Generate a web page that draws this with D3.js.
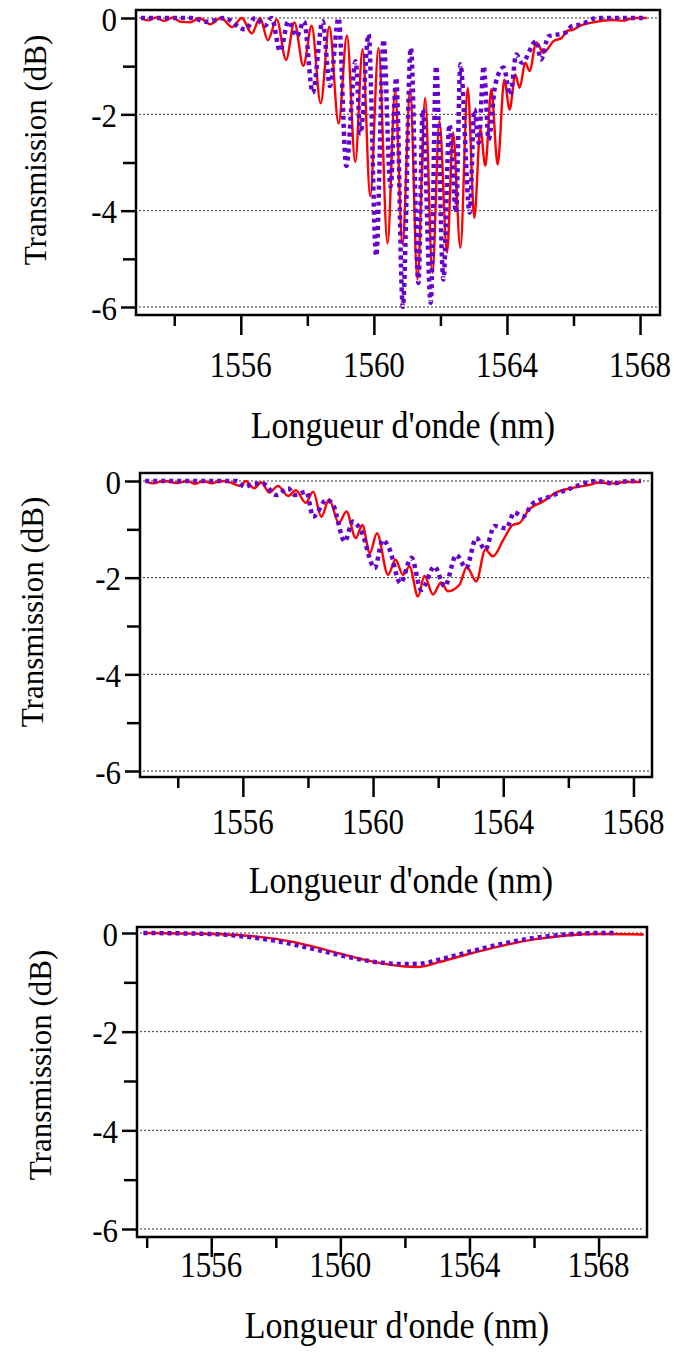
<!DOCTYPE html>
<html><head><meta charset="utf-8">
<script src="https://cdn.jsdelivr.net/npm/d3@7/dist/d3.min.js"></script>
<style>body{margin:0;background:#fff}svg{display:block}</style>
</head><body>
<svg id="chart" width="674" height="1362"></svg>
<script>
// ---------- data ----------
const xMajorTicks = [1556, 1560, 1564, 1568];
const xMinorTicks = [1554, 1558, 1562, 1566];
const yMajorTicks = [0, -2, -4, -6];
const yMinorTicks = [-1, -3, -5];
const xTitle = "Longueur d'onde (nm)";
const yTitle = "Transmission (dB)";

// panel 1 (peaks / troughs)
const p1Red = [[1553.0,0],[1553.22,-0.05],[1553.45,0.01],[1553.7,-0.06],[1553.95,0.01],[1554.2,-0.08],[1554.48,-0.09],[1554.75,0],[1555.08,-0.13],[1555.4,0],[1555.74,-0.19],[1556.03,0],[1556.33,-0.32],[1556.58,0],[1556.81,-0.46],[1557.08,-0.03],[1557.36,-0.87],[1557.61,-0.09],[1557.88,-0.99],[1558.13,-0.16],[1558.4,-1.77],[1558.66,-0.18],[1558.94,-2.19],[1559.19,-0.36],[1559.44,-2.99],[1559.66,-0.65],[1559.89,-3.7],[1560.14,-0.62],[1560.41,-4.68],[1560.64,-1.52],[1560.86,-4.7],[1561.09,-1.48],[1561.31,-5.43],[1561.54,-1.66],[1561.76,-5.29],[1561.97,-2.14],[1562.2,-4.87],[1562.38,-2.38],[1562.6,-4.77],[1562.82,-1.45],[1563.02,-4.15],[1563.2,-2.31],[1563.35,-3.07],[1563.53,-1.48],[1563.72,-3.04],[1563.92,-1.28],[1564.08,-1.9],[1564.25,-1.17],[1564.38,-1.45],[1564.55,-0.93],[1564.68,-1.1],[1564.88,-0.51],[1565.1,-0.72],[1565.4,-0.48],[1565.65,-0.41],[1565.8,-0.27],[1566.0,-0.24],[1566.2,-0.16],[1566.6,-0.09],[1567.2,-0.04],[1567.5,-0.06],[1567.8,0],[1568.2,0]];
const p1Purple = [[1553.0,0],[1554.5,0],[1555.0,-0.08],[1555.5,0],[1556.13,-0.24],[1556.43,0],[1556.73,-0.16],[1556.93,0],[1557.18,-0.69],[1557.43,-0.07],[1557.68,-0.38],[1557.9,-0.07],[1558.16,-1.55],[1558.46,-0.07],[1558.68,-1.41],[1558.94,0],[1559.17,-3.07],[1559.45,-0.9],[1559.6,-2.4],[1559.84,-0.34],[1560.07,-4.94],[1560.29,-0.45],[1560.5,-3.5],[1560.67,-1.24],[1560.87,-6.0],[1561.11,-0.62],[1561.34,-5.5],[1561.47,-1.9],[1561.71,-5.91],[1561.87,-1.0],[1562.09,-5.43],[1562.27,-2.21],[1562.47,-4.04],[1562.6,-0.96],[1562.88,-4.04],[1563.02,-1.9],[1563.15,-2.59],[1563.3,-1.0],[1563.45,-2.52],[1563.65,-1.38],[1563.9,-1.03],[1564.1,-1.6],[1564.28,-0.76],[1564.45,-0.93],[1564.88,-0.48],[1565.02,-0.86],[1565.25,-0.38],[1565.75,-0.31],[1565.95,-0.17],[1566.25,-0.13],[1566.7,0],[1567.2,0],[1568.2,0]];

// panel 2
const p2Red = [[1553.0,0],[1553.25,-0.05],[1553.56,0],[1554.0,-0.04],[1554.3,0],[1554.53,-0.06],[1554.78,0],[1555.04,-0.05],[1555.3,0],[1555.6,-0.03],[1555.91,-0.1],[1556.09,0],[1556.34,-0.15],[1556.57,-0.03],[1556.81,-0.24],[1557.08,-0.1],[1557.39,-0.31],[1557.63,-0.19],[1557.93,-0.45],[1558.16,-0.22],[1558.41,-0.74],[1558.65,-0.38],[1558.95,-0.87],[1559.18,-0.63],[1559.47,-1.18],[1559.67,-0.91],[1559.9,-1.49],[1560.12,-1.08],[1560.46,-1.94],[1560.69,-1.63],[1560.92,-1.94],[1561.12,-1.77],[1561.38,-2.39],[1561.58,-1.96],[1561.84,-2.35],[1562.09,-2.1],[1562.3,-2.28],[1562.66,-2.14],[1562.88,-1.78],[1563.17,-2.08],[1563.45,-1.42],[1563.68,-1.56],[1564.0,-1.22],[1564.29,-0.91],[1564.5,-0.87],[1564.8,-0.58],[1565.21,-0.43],[1565.62,-0.24],[1566.08,-0.15],[1566.64,-0.08],[1566.95,-0.03],[1567.36,-0.05],[1567.77,-0.02],[1568.18,-0.02]];
const p2Purple = [[1553.0,0],[1555.8,0],[1556.06,-0.12],[1556.32,-0.06],[1556.6,-0.05],[1557.03,-0.29],[1557.39,-0.15],[1557.6,-0.29],[1557.95,-0.22],[1558.16,-0.74],[1558.57,-0.39],[1558.77,-0.49],[1559.13,-1.25],[1559.38,-0.84],[1559.64,-1.04],[1560.05,-1.8],[1560.3,-1.22],[1560.5,-1.4],[1560.84,-2.11],[1561.18,-1.59],[1561.48,-2.25],[1561.89,-1.77],[1562.2,-2.18],[1562.56,-1.53],[1562.86,-1.8],[1563.17,-1.18],[1563.45,-1.42],[1563.73,-0.93],[1564.09,-0.98],[1564.34,-0.65],[1564.6,-0.74],[1564.9,-0.47],[1565.37,-0.34],[1566.08,-0.15],[1566.85,0],[1567.36,-0.05],[1567.87,0],[1568.23,0]];

// panel 3
const p3Red = [[1553.9,0],[1555,-0.01],[1556,-0.02],[1557,-0.05],[1558,-0.12],[1559,-0.25],[1560,-0.42],[1561,-0.58],[1562,-0.68],[1562.4,-0.69],[1563,-0.6],[1564,-0.42],[1565,-0.26],[1566,-0.13],[1567,-0.05],[1568,-0.02],[1569.4,-0.03]];
const p3Purple = [[1553.9,0],[1556,-0.02],[1557,-0.07],[1558,-0.16],[1559,-0.3],[1560,-0.45],[1561,-0.58],[1562,-0.63],[1562.5,-0.62],[1563,-0.55],[1564,-0.38],[1565,-0.22],[1566,-0.1],[1567,-0.03],[1568,0],[1568.5,0]];

// ---------- layout ----------
const panels = [
  {red: p1Red, purple: p1Purple, xDom: [1552.85, 1568.6], left: 136, right: 660, top: 10, bottom: 315, y0: 18, y6: 307, tickLabelY: 365, titleY: 425, yTitleX: 35, yTitleY: 150},
  {red: p2Red, purple: p2Purple, xDom: [1552.84, 1568.57], left: 140, right: 652, top: 473, bottom: 777, y0: 481, y6: 771, tickLabelY: 822, titleY: 880, yTitleX: 32, yTitleY: 612},
  {red: p3Red, purple: p3Purple, xDom: [1553.7, 1569.5], left: 137, right: 647, top: 927, bottom: 1237, y0: 933, y6: 1229, tickLabelY: 1265, titleY: 1325, yTitleX: 40, yTitleY: 1065}
];

const svg = d3.select("#chart");
const FONT = "'Liberation Serif', 'Times New Roman', serif";

panels.forEach(p => {
  const x = d3.scaleLinear().domain(p.xDom).range([p.left, p.right]);
  const y = d3.scaleLinear().domain([0, -6]).range([p.y0, p.y6]);
  const g = svg.append("g");

  // grid
  g.selectAll(".grid").data(yMajorTicks).join("line")
    .attr("x1", p.left + 3).attr("x2", p.right - 3)
    .attr("y1", d => y(d)).attr("y2", d => y(d))
    .attr("stroke", "#333").attr("stroke-width", 1).attr("stroke-dasharray", "2,2");

  // lines
  const line = d3.line().x(d => x(d[0])).y(d => y(d[1])).curve(d3.curveMonotoneX);
  g.append("path").datum(p.red).attr("d", line)
    .attr("fill", "none").attr("stroke", "#ff0000").attr("stroke-width", 2.4);
  g.append("path").datum(p.purple).attr("d", line)
    .attr("fill", "none").attr("stroke", "#6600cc").attr("stroke-width", 4.5).attr("stroke-dasharray", "4,4");

  // frame
  g.append("rect").attr("x", p.left).attr("y", p.top)
    .attr("width", p.right - p.left).attr("height", p.bottom - p.top)
    .attr("fill", "none").attr("stroke", "#000").attr("stroke-width", 2.5);

  // x axis ticks
  const xAxisMajor = d3.axisBottom(x).tickValues(xMajorTicks).tickSize(20).tickFormat("");
  const xAxisMinor = d3.axisBottom(x).tickValues(xMinorTicks).tickSize(11).tickFormat("");
  [xAxisMajor, xAxisMinor].forEach(ax => {
    const a = g.append("g").attr("transform", `translate(0,${p.bottom})`).call(ax);
    a.select(".domain").remove();
    a.selectAll("line").attr("stroke", "#000").attr("stroke-width", 2.5);
  });
  g.selectAll(".xl").data(xMajorTicks).join("text")
    .attr("transform", d => `translate(${x(d)},${p.tickLabelY}) scale(1,1.15)`)
    .attr("text-anchor", "middle").attr("dominant-baseline", "central")
    .attr("font-family", FONT).attr("font-size", 31).text(d => d);

  // y axis ticks
  const yAxisMajor = d3.axisLeft(y).tickValues(yMajorTicks).tickSize(15).tickFormat("");
  const yAxisMinor = d3.axisLeft(y).tickValues(yMinorTicks).tickSize(13).tickFormat("");
  [yAxisMajor, yAxisMinor].forEach(ax => {
    const a = g.append("g").attr("transform", `translate(${p.left},0)`).call(ax);
    a.select(".domain").remove();
    a.selectAll("line").attr("stroke", "#000").attr("stroke-width", 2.5);
  });
  g.selectAll(".yl").data(yMajorTicks).join("text")
    .attr("transform", d => `translate(${p.left - 19},${y(d) + 1}) scale(1,1.12)`)
    .attr("text-anchor", "end").attr("dominant-baseline", "central")
    .attr("font-family", FONT).attr("font-size", 31).text(d => d);

  // titles
  g.append("text")
    .attr("transform", `translate(${(p.left + p.right) / 2 + 5},${p.titleY}) scale(1,1.12)`)
    .attr("text-anchor", "middle").attr("dominant-baseline", "central")
    .attr("font-family", FONT).attr("font-size", 34).text(xTitle);
  g.append("text")
    .attr("transform", `translate(${p.yTitleX},${p.yTitleY}) rotate(-90)`)
    .attr("text-anchor", "middle").attr("dominant-baseline", "central")
    .attr("font-family", FONT).attr("font-size", 31).text(yTitle);
});
</script>
</body></html>
